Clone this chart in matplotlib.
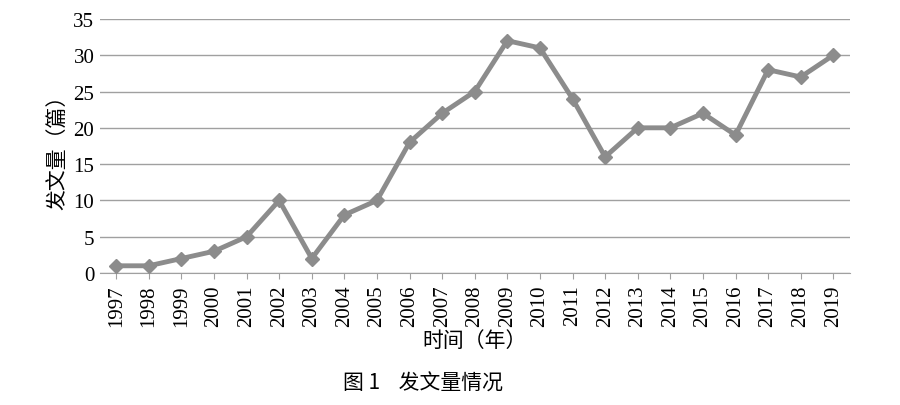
import matplotlib
matplotlib.use("Agg")
import matplotlib.pyplot as plt

years = [str(y) for y in range(1997, 2020)]
counts = [1, 1, 2, 3, 5, 10, 2, 8, 10, 18, 22, 25, 32, 31, 24, 16, 20, 20, 22, 19, 28, 27, 30]

serif = ['Liberation Serif', 'DejaVu Serif']
cjk = ['Noto Sans CJK SC', 'DejaVu Sans']

fig = plt.figure(figsize=(9, 4.06), dpi=100)
ax = fig.add_axes([0.111, 0.325, 0.833, 0.626])

x = list(range(len(years)))
ax.plot(x, counts, color='#8c8c8c', linewidth=3.5, marker='D', markersize=7,
        markerfacecolor='#8c8c8c', markeredgecolor='#8c8c8c', zorder=3)

ax.set_xlim(-0.5, len(years) - 0.5)
ax.set_ylim(0, 35)
ax.set_yticks(range(0, 36, 5))
ax.set_xticks(x)
ax.set_xticklabels(years, rotation=90, family=serif, fontsize=15)
for lbl in ax.get_yticklabels():
    lbl.set_family(serif)
    lbl.set_fontsize(15)
ax.grid(axis='y', color='#a0a0a0', linewidth=1)
ax.set_axisbelow(True)
for s in ['top', 'right', 'left']:
    ax.spines[s].set_visible(False)
ax.spines['bottom'].set_color('#a0a0a0')
ax.tick_params(axis='both', length=0, pad=4)
ax.tick_params(axis='x', length=4, color='#a0a0a0')

ax.set_ylabel('发文量（篇）', family=cjk, fontsize=15)
ax.set_xlabel('时间（年）', family=cjk, fontsize=15, labelpad=2)
fig.text(0.47, 0.04, '图 1    发文量情况', family=cjk, fontsize=15, ha='center')

fig.savefig('out.png', dpi=100)
